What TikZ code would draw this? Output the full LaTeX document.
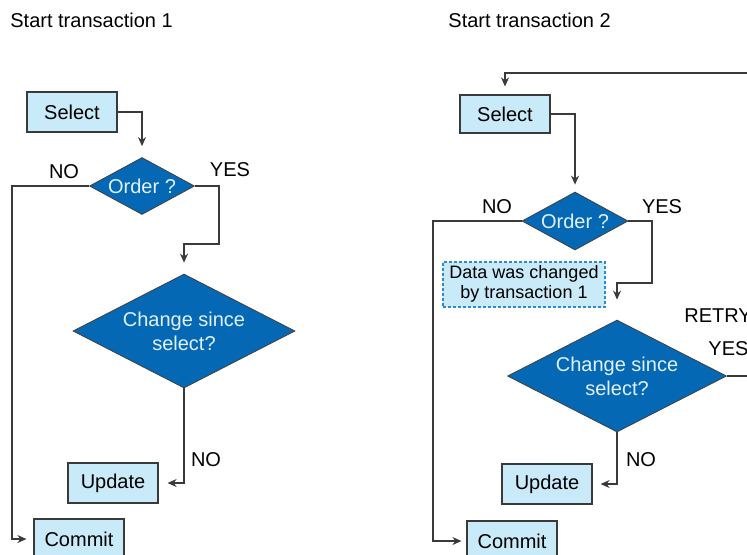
\documentclass[tikz,border=0pt]{standalone}
\usepackage{xcolor}
\usepackage{tikz}
\usepackage{fontspec}
\setmainfont{Liberation Sans}
\usetikzlibrary{positioning, shapes.geometric, arrows.meta}
\definecolor{boxfill}{HTML}{C9EAF9}
\definecolor{boxline}{HTML}{3A3A3A}
\definecolor{diafill}{HTML}{0468B4}
\definecolor{diatext}{HTML}{E2F1FC}
\definecolor{lineclr}{HTML}{3A3A3A}
\definecolor{noteline}{HTML}{2A8AD4}
\tikzstyle{stepbox} = [rectangle, minimum width=45pt, minimum height=20pt, inner sep=1pt, text centered, draw=boxline, line width=0.6pt, fill=boxfill]
\tikzstyle{decision} = [diamond, inner sep=0pt, align=center, text=diatext, fill=diafill, draw=black!75, line width=0.4pt]
\tikzstyle{note} = [rectangle, minimum width=81pt, minimum height=22.5pt, inner sep=1pt, align=center, font=\fontsize{9}{10}\selectfont, fill=boxfill, draw=noteline, line width=1pt, dash pattern=on 1.5pt off 1pt]
\tikzstyle{answer} = [inner sep=0pt]
\tikzstyle{arrow} = [->,>={Stealth[length=4.5pt,width=4pt]}, draw=lineclr, line width=0.6pt]

\begin{document}
\begin{tikzpicture}[x=0.5pt, y=-0.5pt, font=\fontsize{10}{12}\selectfont]
		\clip (0,0) rectangle (747,554);
		%titles
		\node[answer, anchor=west] (title1) at (10,20) {Start transaction 1};
		\node[answer, anchor=west] (title2) at (448,20) {Start transaction 2};
		%transaction 1 shapes
		\node[stepbox] (sel1) at (72,112) {Select};
		\node[decision, aspect=1.84, minimum width=52.5pt, minimum height=28.5pt] (ord1) at (142,186) {Order ?};
		\node[decision, aspect=1.95, minimum width=111pt, minimum height=57pt] (chg1) at (184,331) {Change since\\select?};
		\node[stepbox] (upd1) at (113,483) {Update};
		\node[stepbox] (com1) at (79,539) {Commit};
		\coordinate (no1) at (12,186);
		\coordinate (yes1) at (219,244);
		%transaction 2 shapes
		\node[stepbox, minimum height=19pt] (sel2) at (505,114) {Select};
		\node[decision, aspect=1.84, minimum width=53pt, minimum height=29pt] (ord2) at (575,221) {Order ?};
		\node[note] (data) at (524,284) {Data was changed\\by transaction 1};
		\node[decision, aspect=1.95, minimum width=109.5pt, minimum height=56pt] (chg2) at (617,376) {Change since\\select?};
		\node[stepbox] (upd2) at (547,484) {Update};
		\node[stepbox] (com2) at (512,541) {Commit};
		\coordinate (no2) at (433,221);
		\coordinate (yes2) at (652,283);
		\coordinate (retry) at (770,73);
		%transaction 1 connectors
		\draw [arrow, shorten >=5.5pt] (sel1.east) -| (ord1.north);
		\draw [arrow, shorten >=3.5pt] (ord1.west) -- (no1) |- (com1.west);
		\draw [arrow, shorten >=5.5pt] (ord1.east) -| (yes1) -| (chg1.north);
		\draw [arrow, shorten >=4.5pt] (chg1.south) |- (upd1.east);
		\node[answer] at (64,172) {NO};
		\node[answer] at (230,170) {YES};
		\node[answer] at (206,460) {NO};
		%transaction 2 connectors
		\draw [arrow, shorten >=3.5pt] (sel2.east) -| (ord2.north);
		\draw [arrow, shorten >=2.5pt] (ord2.west) -- (no2) |- (com2.west);
		\draw [arrow, shorten >=10pt] (ord2.east) -| (yes2) -| (chg2.north);
		\draw [arrow, shorten >=4pt] (chg2.south) |- (upd2.east);
		\draw [arrow, shorten >=4pt] (chg2.east) -| (retry) -| (sel2.north);
		\node[answer] at (497,207) {NO};
		\node[answer] at (662,207) {YES};
		\node[answer] at (641,460) {NO};
		\node[answer, anchor=west] at (684,316) {RETRY};
		\node[answer, anchor=west] at (708,349) {YES};
	\end{tikzpicture}
\end{document}
